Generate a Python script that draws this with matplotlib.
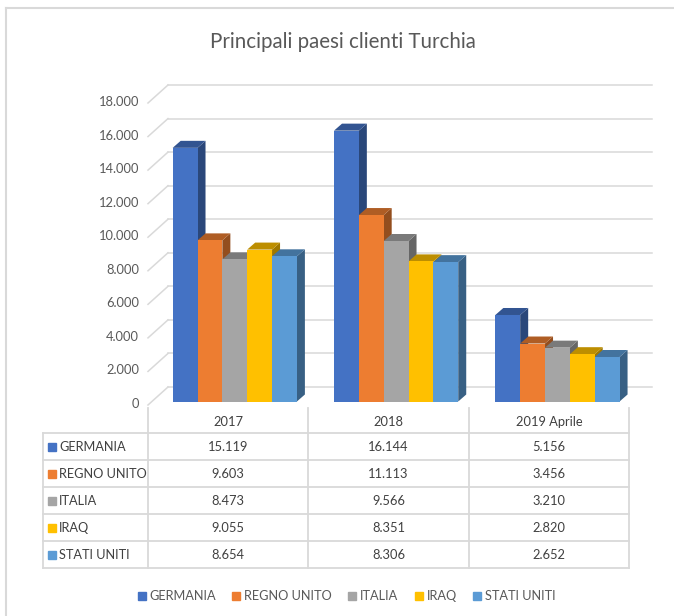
import numpy as np
import matplotlib
matplotlib.use("Agg")
import matplotlib.pyplot as plt
import matplotlib.colors as mcolors
from matplotlib.patches import Polygon
from matplotlib.lines import Line2D

plt.rcParams["font.family"] = ["Lato", "DejaVu Sans"]

title = "Principali paesi clienti Turchia"
periods = ["2017", "2018", "2019 Aprile"]
countries = ["GERMANIA", "REGNO UNITO", "ITALIA", "IRAQ", "STATI UNITI"]
germania = [15119, 16144, 5156]
regno_unito = [9603, 11113, 3456]
italia = [8473, 9566, 3210]
iraq = [9055, 8351, 2820]
stati_uniti = [8654, 8306, 2652]
series = [germania, regno_unito, italia, iraq, stati_uniti]
colors = ["#4472C4", "#ED7D31", "#A5A5A5", "#FFC000", "#5B9BD5"]
yticks = list(range(0, 18001, 2000))

W, H = 674, 616
fig = plt.figure(figsize=(W / 100, H / 100), dpi=100)
fig.patch.set_facecolor("white")

# outer frame (only top / left visible in the original)
fig.add_artist(Line2D([6 / W, 1], [1 - 8 / H, 1 - 8 / H], color="#d9d9d9", lw=1.5))
fig.add_artist(Line2D([6 / W, 6 / W], [0, 1 - 8 / H], color="#d9d9d9", lw=1.5))

# main axes = back wall of the 3D box
ax = fig.add_axes([168 / W, 1 - 387 / H, (652 - 168) / W, (387 - 85) / H])
ax.set_xlim(-0.5, 2.5)
ax.set_ylim(0, 18000)
ax.set_axis_off()

fig.text(343 / W, 1 - 42 / H, title, ha="center", va="center",
         fontsize=14.8, color="#595959")


def shift(x, y, ox, oy):
    # move a data point by a pixel offset, back to data coords
    p = ax.transData.transform((x, y)) + np.array([ox, oy])
    return ax.transData.inverted().transform(p)


FRONT = (-20, -18)   # front plane offset vs back wall (px)
BAR = (-15.5, -14.5)  # bar front face offset (px)
DEPTH = (8, 7)       # bar depth (px)
grid_c = "#d9d9d9"

for v in yticks:
    ax.plot([-0.5, 2.5], [v, v], color=grid_c, lw=1.1, clip_on=False, zorder=1)
    fx, fy = shift(-0.5, v, *FRONT)
    ax.plot([fx, -0.5], [fy, v], color=grid_c, lw=1.1, clip_on=False, zorder=1)
    lx, ly = shift(-0.5, v, FRONT[0] - 9, FRONT[1] + 1)
    lab = f"{v:,}".replace(",", ".")
    ax.text(lx, ly, lab, ha="right", va="center", fontsize=9.3, color="#595959")


def darker(c, f):
    r, g, b = mcolors.to_rgb(c)
    return (r * f, g * f, b * f)


bw = 0.154
for g in range(len(periods)):
    for i, (vals, c) in enumerate(zip(series, colors)):
        v = vals[g]
        x0 = g + 0.01 - 2.5 * bw + i * bw
        x1 = x0 + bw
        fl = shift(x0, 0, *BAR)
        fr = shift(x1, 0, *BAR)
        tl = shift(x0, v, *BAR)
        tr = shift(x1, v, *BAR)
        br_b = shift(x1, 0, BAR[0] + DEPTH[0], BAR[1] + DEPTH[1])
        br_t = shift(x1, v, BAR[0] + DEPTH[0], BAR[1] + DEPTH[1])
        bl_t = shift(x0, v, BAR[0] + DEPTH[0], BAR[1] + DEPTH[1])
        z = 3 + g * 10 + i
        ax.add_patch(Polygon([fr, br_b, br_t, tr], closed=True, fc=darker(c, 0.62),
                             ec="none", clip_on=False, zorder=z))
        ax.add_patch(Polygon([tl, tr, br_t, bl_t], closed=True, fc=darker(c, 0.74),
                             ec="none", clip_on=False, zorder=z))
        ax.add_patch(Polygon([fl, fr, tr, tl], closed=True, fc=c,
                             ec="none", clip_on=False, zorder=z + 0.5))

# data table under the chart
tax = fig.add_axes([43 / W, 1 - 568 / H, (629 - 43) / W, (568 - 408) / H])
tx0 = -0.5 - (148 - 43) / 160.3
tax.set_xlim(tx0, 2.5)
tax.set_ylim(5, -0.93)
tax.set_axis_off()
line_c = "#d9d9d9"
for r in range(len(countries) + 1):
    tax.plot([tx0, 2.5], [r, r], color=line_c, lw=1.3, clip_on=False)
tax.plot([tx0, tx0], [0, 5], color=line_c, lw=1.3, clip_on=False)
for xb in np.arange(-0.5, 2.6, 1.0):
    tax.plot([xb, xb], [-0.93, 5], color=line_c, lw=1.3, clip_on=False)

txt_c = "#404040"
for j, p in enumerate(periods):
    tax.text(j, -0.42, p, ha="center", va="center", fontsize=9.3, color=txt_c)
for r, (name, vals, c) in enumerate(zip(countries, series, colors)):
    tax.plot([tx0 + 8.5 / 160.3], [r + 0.5], marker="s", ms=5.5, color=c,
             linestyle="none", clip_on=False)
    tax.text(tx0 + 16 / 160.3, r + 0.5, name, ha="left", va="center",
             fontsize=9.2, color=txt_c)
    for j, v in enumerate(vals):
        tax.text(j, r + 0.5, f"{v:,}".replace(",", "."), ha="center",
                 va="center", fontsize=9.3, color=txt_c)

handles = [Line2D([], [], marker="s", ms=6, color=c, linestyle="none")
           for c in colors]
fig.legend(handles, countries, loc="center", bbox_to_anchor=(346 / W, 1 - 596 / H),
           ncol=5, frameon=False, fontsize=9.2, handletextpad=0.2,
           columnspacing=1.2, labelcolor="#595959", handlelength=0.8)

fig.savefig("out.png", dpi=100)
